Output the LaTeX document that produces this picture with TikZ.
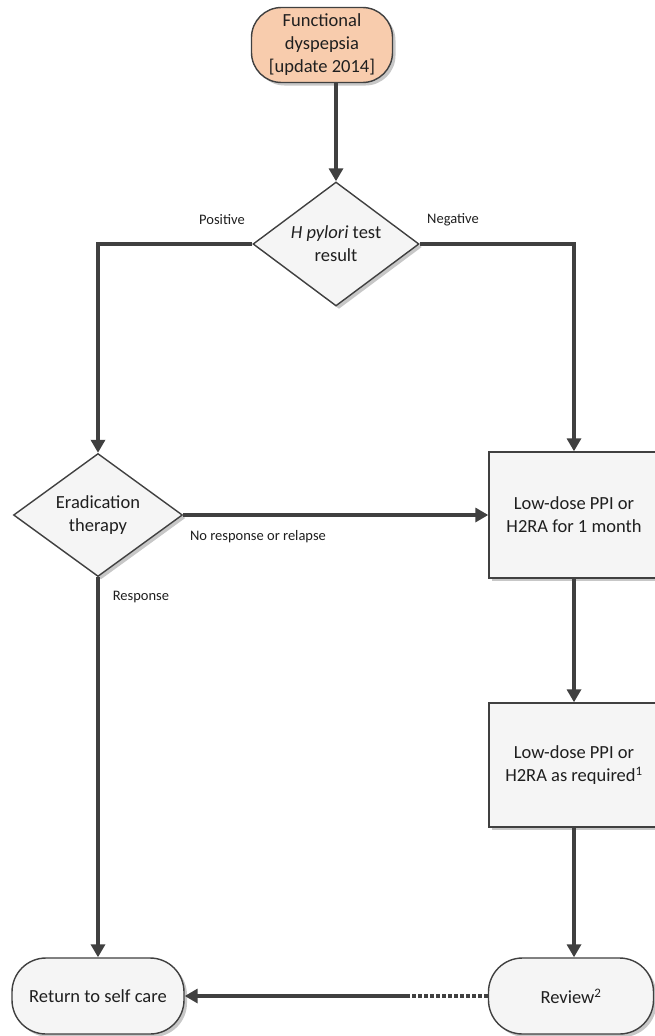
\documentclass[tikz,border=0pt]{standalone}
\usepackage{fontspec}
\setmainfont{Carlito}
\usetikzlibrary{shapes.geometric,shadows,arrows.meta}
\definecolor{peach}{RGB}{248,204,173}
\definecolor{boxfill}{RGB}{245,245,245}
\definecolor{linegray}{RGB}{64,64,64}
\tikzset{
  base/.style={draw=linegray, line width=1.4pt, text=black!88, align=center,
    font=\fontsize{18.5}{23}\selectfont, inner sep=2pt,
    drop shadow={shadow xshift=3pt, shadow yshift=-3pt, opacity=0.22, fill=black}},
  terminal/.style={base, rectangle, rounded corners=34pt, fill=boxfill},
  startbox/.style={base, rectangle, rounded corners=30pt, fill=peach},
  decision/.style={base, diamond, fill=boxfill, aspect=1.3},
  process/.style={base, rectangle, fill=boxfill},
  flow/.style={draw=linegray, line width=3.6pt, -{Triangle[length=13pt,width=14pt]}},
  lbl/.style={font=\fontsize{14.5}{17}\selectfont, text=black!88, inner sep=0pt}
}
\begin{document}
\begin{tikzpicture}[x=1pt,y=-1pt]
\useasboundingbox (0,0) rectangle (655,1036);
\fill[white] (0,0) rectangle (655,1036);

% nodes
\node[startbox, minimum width=141pt, minimum height=75pt] (start) at (322,45)
  {Functional\\dyspepsia\\{[}update 2014{]}};
\node[decision, minimum width=166pt, minimum height=124pt, inner sep=0pt] (test) at (336,244)
  {\textit{H pylori} test\\result};
\node[decision, minimum width=169pt, minimum height=123pt, inner sep=0pt] (erad) at (98,515)
  {Eradication\\therapy};
\node[process, minimum width=170pt, minimum height=126pt] (month) at (574,515)
  {Low-dose PPI or\\H2RA for 1 month};
\node[process, minimum width=170pt, minimum height=124pt] (asreq) at (574,765)
  {Low-dose PPI or\\H2RA as required\textsuperscript{1}};
\node[terminal, minimum width=172pt, minimum height=76pt] (self) at (98,996)
  {Return to self care};
\node[terminal, minimum width=165pt, minimum height=76pt] (review) at (571,996)
  {Review\textsuperscript{2}};

% connectors
\draw[flow] (start.south -| test.north) -- (test.north);
\draw[flow] (test.west) -| (erad.north);
\draw[flow] (test.east) -| (month.north);
\draw[flow] (erad.east) -- (erad.east -| month.west);
\draw[flow] (month.south) -- (asreq.north);
\draw[flow] (asreq.south) -- (asreq.south |- review.north);
\draw[flow] (erad.south) -- (self.north);
\coordinate (split) at (410,996);
\draw[draw=linegray, line width=3.2pt, dash pattern=on 4pt off 2pt] (review.west) -- (split);
\draw[flow] (split) -- (self.east);

% branch labels
\node[lbl] (pos) at (222,220) {Positive};
\node[lbl] (neg) at (453,220) {Negative};
\node[lbl] (norel) at (258,537) {No response or relapse};
\node[lbl] (resp) at (141,597) {Response};
\end{tikzpicture}
\end{document}
